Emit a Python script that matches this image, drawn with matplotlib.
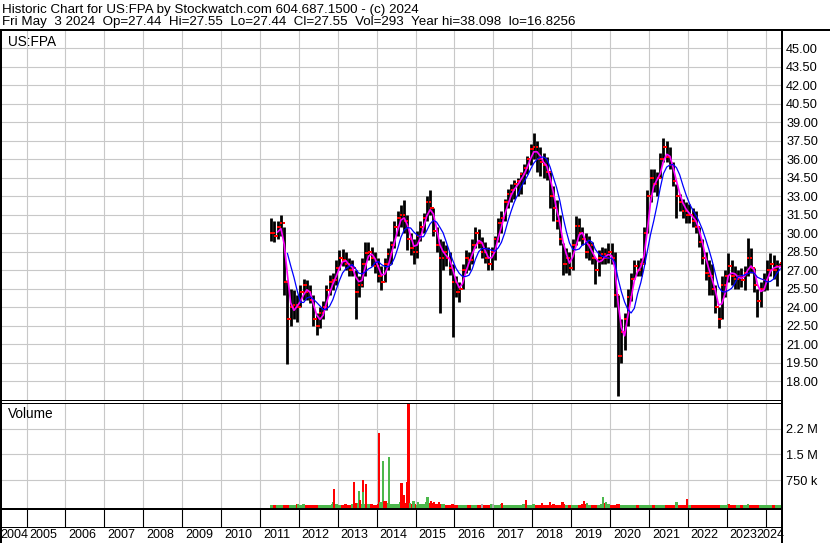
import numpy as np
import pandas as pd
import matplotlib
matplotlib.use("Agg")
import matplotlib.pyplot as plt
from matplotlib.lines import Line2D

W, H = 830, 543
FONT = "Liberation Sans"

# monthly bars, Apr 2011 .. May 2024
months = pd.period_range("2011-04", "2024-05", freq="M")

lo = [
    29.4, 29.3, 29.5, 29.8, 25.0, 19.4, 22.5, 23.0, 22.8,                    # 2011
    24.0, 24.6, 24.6, 24.3, 22.5, 21.7, 22.3, 23.0, 23.8, 25.0, 25.4, 25.8,  # 2012
    27.0, 27.3, 27.0, 26.5, 26.5, 23.0, 24.8, 25.6, 26.5, 27.8, 27.3, 26.8,  # 2013
    26.0, 25.4, 26.0, 27.0, 27.5, 28.8, 29.8, 30.5, 30.0, 28.6, 28.2, 27.5,  # 2014
    28.0, 29.4, 30.0, 31.0, 31.5, 29.8, 28.5, 23.5, 27.0, 27.3, 26.6, 21.6,  # 2015
    24.8, 24.4, 25.5, 26.8, 27.0, 27.5, 28.8, 28.8, 28.0, 27.6, 27.0, 27.0,  # 2016
    27.8, 29.3, 30.0, 31.0, 32.0, 32.5, 32.8, 33.0, 33.2, 34.0, 34.8, 35.5,  # 2017
    36.0, 35.0, 34.6, 34.5, 34.3, 32.0, 31.0, 30.3, 29.0, 26.6, 26.8, 26.6,  # 2018
    27.0, 29.0, 29.4, 29.0, 28.0, 27.8, 27.5, 25.9, 26.5, 27.5, 27.5, 27.6,  # 2019
    27.5, 24.0, 16.8, 19.5, 20.5, 22.5, 24.5, 26.3, 26.5, 26.5, 27.5, 30.0,  # 2020
    32.5, 33.3, 33.0, 34.5, 35.8, 35.8, 35.2, 33.8, 31.2, 31.8, 31.2, 30.8,  # 2021
    30.8, 30.5, 30.0, 28.9, 27.5, 26.2, 25.0, 25.0, 23.5, 22.3, 23.0, 24.8,  # 2022
    26.0, 25.8, 25.5, 25.5, 25.6, 25.4, 26.5, 26.8, 25.2, 23.2, 24.0, 25.3,  # 2023
    25.4, 26.5, 26.3, 25.7, 27.44,                                           # 2024
]
hi = [
    31.2, 31.0, 31.0, 31.5, 30.5, 26.2, 25.5, 25.4, 25.0,
    25.8, 26.3, 26.2, 25.8, 25.0, 23.5, 24.0, 24.5, 25.8, 26.6, 26.8, 27.8,
    28.6, 28.7, 28.5, 28.0, 27.8, 27.0, 26.5, 28.0, 29.3, 29.3, 28.9, 28.5,
    28.0, 27.3, 28.0, 28.8, 29.4, 31.0, 31.8, 32.3, 32.7, 31.5, 30.0, 29.5,
    30.2, 31.0, 31.6, 33.0, 33.5, 32.0, 30.5, 29.5, 29.4, 29.0, 28.5, 27.5,
    26.5, 26.0, 27.5, 28.6, 28.5, 29.5, 30.5, 30.3, 29.7, 29.3, 28.9, 28.9,
    29.8, 31.2, 31.8, 32.8, 33.6, 34.0, 34.3, 34.5, 35.0, 35.6, 36.3, 37.2,
    38.1, 37.5, 37.0, 36.5, 36.2, 35.0, 33.8, 32.7, 31.5, 29.2, 28.8, 28.5,
    29.5, 31.4, 31.2, 30.5, 30.0, 29.8, 29.3, 28.0, 28.6, 28.9, 28.8, 29.2,
    29.2, 28.5, 25.0, 23.0, 23.5, 25.5, 26.8, 27.8, 27.8, 28.0, 30.5, 33.5,
    35.2, 35.2, 35.0, 36.5, 37.7, 37.5, 37.0, 35.8, 34.0, 33.2, 32.8, 32.5,
    32.4, 32.0, 31.8, 30.5, 29.5, 28.5, 27.8, 27.5, 25.8, 24.0, 26.5, 27.0,
    28.4, 27.8, 27.3, 27.0, 27.2, 27.3, 29.6, 28.8, 27.2, 25.5, 26.0, 26.8,
    27.8, 28.4, 28.2, 27.8, 27.55,
]
close = [
    30.0, 29.8, 30.5, 30.8, 26.0, 23.0, 24.0, 24.2, 24.0,
    25.2, 25.8, 25.2, 24.6, 23.0, 22.5, 23.5, 24.0, 25.4, 26.0, 26.2, 27.2,
    28.0, 27.8, 27.5, 27.0, 27.2, 25.2, 25.8, 27.5, 28.4, 28.5, 28.0, 27.3,
    26.5, 26.0, 27.5, 28.3, 29.0, 30.5, 31.2, 31.5, 31.0, 29.5, 28.8, 28.5,
    29.8, 30.5, 31.2, 32.5, 32.0, 30.2, 29.0, 28.0, 28.5, 28.0, 27.2, 26.0,
    25.2, 25.5, 27.0, 28.0, 27.8, 29.0, 30.0, 29.2, 28.5, 28.0, 27.5, 28.5,
    29.5, 30.8, 31.2, 32.5, 33.2, 33.5, 34.0, 34.2, 34.8, 35.3, 36.0, 36.8,
    37.0, 36.0, 35.8, 35.5, 35.0, 33.0, 32.0, 31.0, 29.5, 27.5, 28.0, 27.2,
    29.0, 30.6, 30.0, 29.5, 28.5, 29.0, 28.0, 27.0, 28.0, 28.3, 28.0, 28.5,
    28.0, 25.0, 20.0, 22.0, 23.0, 24.8, 26.3, 27.3, 27.0, 27.5, 30.0, 33.0,
    34.5, 34.0, 34.5, 36.0, 37.0, 36.2, 35.5, 34.2, 33.0, 32.5, 31.8, 31.5,
    31.5, 31.0, 30.5, 29.3, 28.0, 26.8, 26.5, 25.5, 24.0, 23.0, 25.8, 26.5,
    27.3, 26.5, 26.3, 26.5, 26.2, 26.8, 28.0, 27.2, 25.8, 24.5, 25.5, 26.2,
    27.0, 27.5, 27.0, 27.3, 27.55,
]
# typical volume per month (shares)
vol_base = [
    20e3, 25e3, 30e3, 30e3, 40e3, 35e3, 30e3, 45e3, 50e3,
    30e3, 50e3, 30e3, 25e3, 30e3, 20e3, 25e3, 30e3, 35e3, 45e3, 60e3, 50e3,
    30e3, 40e3, 50e3, 40e3, 60e3, 90e3, 80e3, 50e3, 60e3, 70e3, 50e3, 40e3,
    60e3, 110e3, 90e3, 80e3, 60e3, 50e3, 70e3, 110e3, 90e3, 80e3, 50e3, 50e3,
    40e3, 50e3, 60e3, 110e3, 90e3, 80e3, 60e3, 50e3, 50e3, 40e3, 30e3, 50e3,
    30e3, 25e3, 40e3, 30e3, 40e3, 30e3, 40e3, 30e3, 30e3, 40e3, 40e3, 50e3,
    30e3, 40e3, 60e3, 40e3, 30e3, 40e3, 40e3, 30e3, 40e3, 60e3, 40e3, 40e3,
    50e3, 40e3, 40e3, 30e3, 40e3, 40e3, 50e3, 40e3, 40e3, 60e3, 40e3, 30e3,
    40e3, 30e3, 40e3, 70e3, 50e3, 40e3, 40e3, 40e3, 40e3, 60e3, 90e3, 60e3,
    40e3, 30e3, 50e3, 40e3, 30e3, 25e3, 25e3, 25e3, 30e3, 30e3, 25e3, 40e3,
    30e3, 40e3, 40e3, 30e3, 30e3, 25e3, 30e3, 40e3, 70e3, 40e3, 30e3, 30e3,
    25e3, 30e3, 25e3, 30e3, 30e3, 30e3, 25e3, 30e3, 25e3, 30e3, 25e3, 25e3,
    50e3, 30e3, 25e3, 25e3, 30e3, 25e3, 25e3, 25e3, 30e3, 25e3, 40e3, 30e3,
    30e3, 40e3, 30e3, 25e3, 20e3,
]
# single-day volume spikes
spike_t = [2011.97, 2012.10, 2012.88, 2012.90, 2013.42, 2013.55, 2013.58, 2013.64,
           2013.66, 2013.73, 2014.07, 2014.10, 2014.16, 2014.19, 2014.23, 2014.32,
           2014.64, 2014.69, 2014.78, 2014.82, 2014.86, 2014.95, 2015.06, 2015.31,
           2015.39, 2015.47, 2015.60, 2016.70, 2016.99, 2017.22, 2017.83, 2018.25,
           2018.45, 2018.78, 2019.33, 2019.40, 2019.83, 2019.90, 2021.71, 2021.98,
           2023.07, 2023.55]
spike_v = [60e3, 60e3, 120e3, 500e3, 700e3, 440e3, 180e3, 760e3,
           410e3, 640e3, 2120e3, 130e3, 1310e3, 150e3, 150e3, 1420e3,
           670e3, 320e3, 700e3, 3100e3, 80e3, 150e3, 120e3, 270e3,
           150e3, 120e3, 120e3, 50e3, 60e3, 90e3, 180e3, 100e3,
           120e3, 130e3, 150e3, 100e3, 260e3, 110e3, 120e3, 210e3,
           60e3, 50e3]
spike_c = ["g", "g", "g", "r", "r", "g", "r", "r",
           "g", "r", "r", "g", "g", "r", "r", "g",
           "r", "r", "r", "r", "g", "g", "g", "g",
           "r", "r", "r", "k", "k", "r", "r", "r",
           "r", "r", "r", "g", "g", "g", "g", "r",
           "r", "g"]

price_ticks = [18 + 1.5 * i for i in range(19)]
vol_ticks = [750e3, 1.5e6, 2.25e6]
vol_labels = ["750 k", "1.5 M", "2.2 M"]
years = list(range(2004, 2025))

RED = "#ff0000"
GREEN = "#4cb84c"
GRAY = "#a8a8a8"
GRID = "#c8c8c8"
cmap = {"r": RED, "g": GREEN, "k": GRAY}

PXY = 38.9            # pixels per year
X2005 = 26.5          # pixel of 2005 boundary
RIGHT = 782


def fx(x):
    return x / W


def fy(y):
    return 1 - y / H


def px2yr(x):
    return 2005 + (x - X2005) / PXY


t = np.array([p.year + (p.month - 0.5) / 12 for p in months])
lo = np.array(lo)
hi = np.array(hi)
close = np.array(close)
opn = np.r_[close[0], close[:-1]]
ma_fast = pd.Series(close).rolling(3).mean()
ma_slow = pd.Series(close).rolling(6).mean()

fig = plt.figure(figsize=(W / 100, H / 100), dpi=100)
plt.rcParams["font.family"] = [FONT, "DejaVu Sans"]

xlim = (px2yr(0), px2yr(RIGHT))

# price panel (y 30..400 px)
ax = fig.add_axes([0, fy(400), fx(RIGHT), (400 - 30) / H])
ax.set_xlim(*xlim)
ax.set_ylim(18 - 19 / 12.323, 45 + 18.3 / 12.323)
ax.set_xticks(years[1:])
ax.set_yticks(price_ticks)
ax.set_yticklabels(["%.2f" % v for v in price_ticks])
ax.grid(True, color=GRID, lw=0.8)
ax.set_axisbelow(True)
ax.tick_params(length=0, labelbottom=False, labelleft=False, labelright=True,
               labelsize=9.2, pad=3)
for s in ax.spines.values():
    s.set_visible(False)

ax.vlines(t, lo, hi, color="black", lw=2.0, zorder=2)
ax.plot(t - 0.013, opn, "s", color=RED, ms=1.6, mew=0, zorder=3)
ax.plot(t + 0.013, close, "s", color=RED, ms=1.6, mew=0, zorder=3)
ax.plot(t, ma_fast, color="#ff00ff", lw=1.2, zorder=4)
ax.plot(t, ma_slow, color="#0000ff", lw=0.9, zorder=4)
fig.text(fx(8), fy(46), "US:FPA", fontsize=9.8, va="baseline")

# volume panel (y 402.5..509 px)
vmin, vmax = -84e3, 3.01e6
av = fig.add_axes([0, fy(509), fx(RIGHT), (509 - 402.5) / H])
av.set_xlim(*xlim)
av.set_ylim(vmin, vmax)
av.set_xticks(years[1:])
av.set_yticks(vol_ticks)
av.set_yticklabels(vol_labels)
av.grid(True, color=GRID, lw=0.8)
av.set_axisbelow(True)
av.tick_params(length=0, labelbottom=False, labelleft=False, labelright=True,
               labelsize=9.2, pad=3)
for s in av.spines.values():
    s.set_visible(False)
base_c = [GREEN if c >= o else RED for c, o in zip(close, opn)]
av.bar(t, np.array(vol_base) - vmin, bottom=vmin, width=1 / 12, color=base_c,
       linewidth=0, zorder=2)
av.bar(spike_t, np.array(spike_v) - vmin, bottom=vmin, width=0.055,
       color=[cmap[c] for c in spike_c], linewidth=0, zorder=3)
fig.text(fx(8), fy(418), "Volume", fontsize=9.8, va="baseline")

# tick row (509..527) and year labels (527..543)
at = fig.add_axes([0, fy(543), fx(RIGHT), (543 - 509) / H])
at.set_xlim(*xlim)
at.set_ylim(34, 0)
at.axis("off")
at.vlines(years[1:], 0, 18, color="black", lw=0.8)
for yr in years:
    if yr == 2004:
        at.text(xlim[0], 26, str(yr), fontsize=9, ha="left", va="center")
    elif yr == 2024:
        at.text(xlim[1] + 2 / PXY, 26, str(yr), fontsize=9, ha="right", va="center",
                clip_on=False)
    else:
        at.text(yr + 3 / PXY, 26, str(yr), fontsize=9, ha="left", va="center")

# header
fig.text(fx(2), fy(12.5), "Historic Chart for US:FPA by Stockwatch.com 604.687.1500 - (c) 2024",
         fontsize=9.6, va="baseline")
fig.text(fx(2), fy(25.5),
         "Fri May  3 2024  Op=27.44  Hi=27.55  Lo=27.44  Cl=27.55  Vol=293  Year hi=38.098  lo=16.8256",
         fontsize=9.6, va="baseline")


def line(x0, y0, x1, y1, w):
    fig.add_artist(Line2D([fx(x0), fx(x1)], [fy(y0), fy(y1)], transform=fig.transFigure,
                          color="black", lw=w * 0.72, solid_capstyle="butt"))


line(0, 30, W, 30, 2)
line(1, 30, 1, H, 2)
line(RIGHT, 30, RIGHT, H, 2)
line(0, 400, RIGHT, 400, 1)
line(0, 402.7, RIGHT, 402.7, 1)
line(0, 509, RIGHT, 509, 2)
line(0, 527, RIGHT, 527, 1)

fig.savefig("out.png", dpi=100)
